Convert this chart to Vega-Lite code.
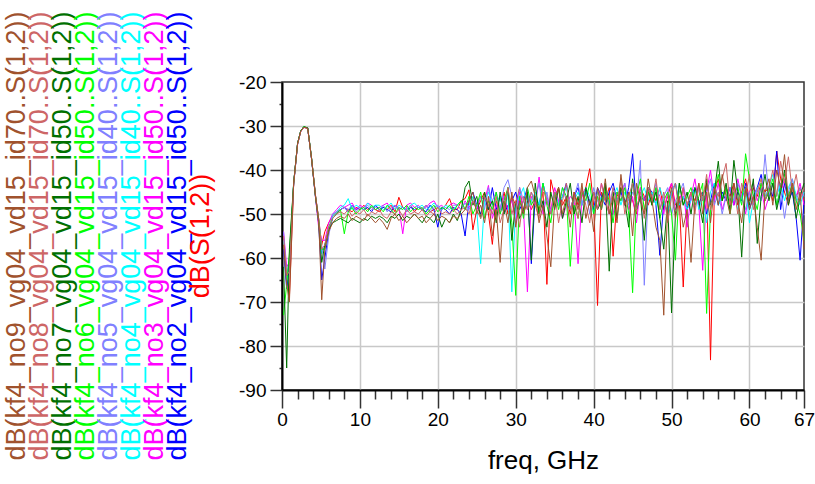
{
"$schema":"https://vega.github.io/schema/vega-lite/v6.json",
"padding":{"left":2,"top":11,"right":0,"bottom":5},
"bounds":"flush",
"spacing":70,
"config":{"view":{"stroke":"#333333","strokeWidth":1.5},"font":"Liberation Sans"},
"datasets":{
"labels":[{"s":"n9","label":"dB(kf4_no9_vg04_vd15_id70..S(1,2))"},{"s":"n8","label":"dB(kf4_no8_vg04_vd15_id70..S(1,2))"},{"s":"n7","label":"dB(kf4_no7_vg04_vd15_id50..S(1,2))"},{"s":"n6","label":"dB(kf4_no6_vg04_vd15_id50..S(1,2))"},{"s":"n5","label":"dB(kf4_no5_vg04_vd15_id40..S(1,2))"},{"s":"n4","label":"dB(kf4_no4_vg04_vd15_id40..S(1,2))"},{"s":"n3","label":"dB(kf4_no3_vg04_vd15_id50..S(1,2))"},{"s":"n2","label":"dB(kf4_no2_vg04_vd15_id50..S(1,2))"},{"s":"r","label":"dB(S(1,2))"}],
"n9":[{"f":0.2,"v":-57},{"f":0.6,"v":-66},{"f":0.95,"v":-70},{"f":1.5,"v":-43},{"f":2,"v":-34},{"f":2.4,"v":-31.2},{"f":2.8,"v":-30.3},{"f":3.3,"v":-30.5},{"f":3.8,"v":-37.6},{"f":4.3,"v":-46},{"f":4.7,"v":-51},{"f":5.1,"v":-69.5},{"f":5.5,"v":-58},{"f":6,"v":-54},{"f":6.5,"v":-52},{"f":7,"v":-51},
{"f":7.5,"v":-50.5},{"f":8,"v":-51},{"f":8.5,"v":-50},{"f":9,"v":-51.5},{"f":9.5,"v":-50.5},{"f":10,"v":-51},{"f":10.5,"v":-51.5},{"f":11,"v":-50},{"f":11.5,"v":-51},{"f":12,"v":-52},
{"f":12.5,"v":-51},{"f":13,"v":-52},{"f":13.5,"v":-53.5},{"f":14,"v":-51},{"f":14.5,"v":-50},{"f":15,"v":-51.5},{"f":15.5,"v":-50.5},{"f":16,"v":-52},{"f":16.5,"v":-51},{"f":17,"v":-50},
{"f":17.5,"v":-51},{"f":18,"v":-50.5},{"f":18.5,"v":-52},{"f":19,"v":-51},{"f":19.5,"v":-50},{"f":20,"v":-51.5},{"f":20.5,"v":-50.5},{"f":21,"v":-51},{"f":21.5,"v":-52},{"f":22,"v":-50.5},
{"f":22.5,"v":-51},{"f":23,"v":-50},{"f":23.5,"v":-49},{"f":24,"v":-47},{"f":24.5,"v":-45},{"f":25,"v":-50},{"f":25.5,"v":-48},{"f":26,"v":-52},{"f":26.5,"v":-46},{"f":27,"v":-55},
{"f":27.5,"v":-49},{"f":28,"v":-61},{"f":28.5,"v":-47},{"f":29,"v":-52},{"f":29.5,"v":-45},{"f":30,"v":-53},{"f":30.5,"v":-47},{"f":31,"v":-50},{"f":31.5,"v":-44},{"f":32,"v":-42.5},
{"f":32.5,"v":-46},{"f":33,"v":-52},{"f":33.5,"v":-48},{"f":34,"v":-55},{"f":34.5,"v":-62},{"f":35,"v":-47},{"f":35.5,"v":-44},{"f":36,"v":-50},{"f":36.5,"v":-46},{"f":37,"v":-53},
{"f":37.5,"v":-45},{"f":38,"v":-49},{"f":38.5,"v":-43},{"f":39,"v":-51},{"f":39.5,"v":-47},{"f":40,"v":-54},{"f":40.5,"v":-44},{"f":41,"v":-49},{"f":41.5,"v":-42},{"f":42,"v":-50},
{"f":42.5,"v":-46},{"f":43,"v":-52},{"f":43.5,"v":-41},{"f":44,"v":-48},{"f":44.5,"v":-45},{"f":45,"v":-55},{"f":45.5,"v":-43},{"f":46,"v":-47},{"f":46.5,"v":-50},{"f":47,"v":-42},
{"f":47.5,"v":-47},{"f":48,"v":-53},{"f":48.5,"v":-56},{"f":49,"v":-73},{"f":49.5,"v":-48},{"f":50,"v":-44},{"f":50.5,"v":-51},{"f":51,"v":-46},{"f":51.5,"v":-53},{"f":52,"v":-49},
{"f":52.5,"v":-61},{"f":53,"v":-47},{"f":53.5,"v":-43},{"f":54,"v":-50},{"f":54.5,"v":-45},{"f":55,"v":-52},{"f":55.5,"v":-44},{"f":56,"v":-48},{"f":56.5,"v":-41},{"f":57,"v":-46},
{"f":57.5,"v":-50},{"f":58,"v":-43},{"f":58.5,"v":-47},{"f":59,"v":-52},{"f":59.5,"v":-44},{"f":60,"v":-49},{"f":60.5,"v":-46},{"f":61,"v":-53},{"f":61.5,"v":-60.5},{"f":62,"v":-45},
{"f":62.5,"v":-42},{"f":63,"v":-48},{"f":63.5,"v":-40},{"f":64,"v":-44},{"f":64.5,"v":-36.5},{"f":65,"v":-47},{"f":65.5,"v":-43},{"f":66,"v":-49},{"f":66.5,"v":-45},{"f":67,"v":-58}],
"n8":[{"f":0.2,"v":-55},{"f":0.6,"v":-64},{"f":0.95,"v":-63},{"f":1.5,"v":-43.2},{"f":2,"v":-34.2},{"f":2.4,"v":-31.3},{"f":2.8,"v":-30.3},{"f":3.3,"v":-30.6},{"f":3.8,"v":-37.4},{"f":4.3,"v":-45.8},{"f":4.7,"v":-51.5},{"f":5.1,"v":-58},{"f":5.5,"v":-57},{"f":6,"v":-53},{"f":6.5,"v":-51},{"f":7,"v":-50},
{"f":7.5,"v":-49.5},{"f":8,"v":-50},{"f":8.5,"v":-49},{"f":9,"v":-50.5},{"f":9.5,"v":-49.5},{"f":10,"v":-50},{"f":10.5,"v":-49},{"f":11,"v":-50.5},{"f":11.5,"v":-49.5},{"f":12,"v":-50},
{"f":12.5,"v":-49},{"f":13,"v":-50.5},{"f":13.5,"v":-51},{"f":14,"v":-49.5},{"f":14.5,"v":-50},{"f":15,"v":-49},{"f":15.5,"v":-50.5},{"f":16,"v":-49},{"f":16.5,"v":-50},{"f":17,"v":-49.5},
{"f":17.5,"v":-50},{"f":18,"v":-49},{"f":18.5,"v":-50.5},{"f":19,"v":-49.5},{"f":19.5,"v":-50},{"f":20,"v":-48.5},{"f":20.5,"v":-50},{"f":21,"v":-49.5},{"f":21.5,"v":-50},{"f":22,"v":-49},
{"f":22.5,"v":-50},{"f":23,"v":-49},{"f":23.5,"v":-48.5},{"f":24,"v":-50},{"f":24.5,"v":-47},{"f":25,"v":-49},{"f":25.5,"v":-51},{"f":26,"v":-46},{"f":26.5,"v":-48},{"f":27,"v":-50},
{"f":27.5,"v":-46},{"f":28,"v":-52},{"f":28.5,"v":-49},{"f":29,"v":-44},{"f":29.5,"v":-50},{"f":30,"v":-47},{"f":30.5,"v":-53},{"f":31,"v":-46},{"f":31.5,"v":-49},{"f":32,"v":-45},
{"f":32.5,"v":-48},{"f":33,"v":-51},{"f":33.5,"v":-44},{"f":34,"v":-47},{"f":34.5,"v":-50},{"f":35,"v":-45},{"f":35.5,"v":-52},{"f":36,"v":-47},{"f":36.5,"v":-43},{"f":37,"v":-49},
{"f":37.5,"v":-46},{"f":38,"v":-51},{"f":38.5,"v":-44},{"f":39,"v":-48},{"f":39.5,"v":-52},{"f":40,"v":-45},{"f":40.5,"v":-49},{"f":41,"v":-43},{"f":41.5,"v":-47},{"f":42,"v":-50},
{"f":42.5,"v":-44},{"f":43,"v":-48},{"f":43.5,"v":-42},{"f":44,"v":-50},{"f":44.5,"v":-46},{"f":45,"v":-43},{"f":45.5,"v":-49},{"f":46,"v":-45},{"f":46.5,"v":-51},{"f":47,"v":-44},
{"f":47.5,"v":-47},{"f":48,"v":-42},{"f":48.5,"v":-49},{"f":49,"v":-45},{"f":49.5,"v":-52},{"f":50,"v":-46},{"f":50.5,"v":-43},{"f":51,"v":-50},{"f":51.5,"v":-44},{"f":52,"v":-48},
{"f":52.5,"v":-45},{"f":53,"v":-50},{"f":53.5,"v":-43},{"f":54,"v":-47},{"f":54.5,"v":-41},{"f":55,"v":-49},{"f":55.5,"v":-44},{"f":56,"v":-46},{"f":56.5,"v":-42},{"f":57,"v":-38.5},
{"f":57.5,"v":-48},{"f":58,"v":-44},{"f":58.5,"v":-50},{"f":59,"v":-43},{"f":59.5,"v":-46},{"f":60,"v":-41},{"f":60.5,"v":-49},{"f":61,"v":-45},{"f":61.5,"v":-42},{"f":62,"v":-47},
{"f":62.5,"v":-44},{"f":63,"v":-40},{"f":63.5,"v":-46},{"f":64,"v":-38},{"f":64.5,"v":-43},{"f":65,"v":-37},{"f":65.5,"v":-45},{"f":66,"v":-41},{"f":66.5,"v":-47},{"f":67,"v":-44}],
"n7":[{"f":0.2,"v":-62},{"f":0.6,"v":-85},{"f":0.95,"v":-58},{"f":1.5,"v":-42.8},{"f":2,"v":-33.9},{"f":2.4,"v":-31.1},{"f":2.8,"v":-30.2},{"f":3.3,"v":-30.4},{"f":3.8,"v":-37.5},{"f":4.3,"v":-46.2},{"f":4.7,"v":-52},{"f":5.1,"v":-61},{"f":5.5,"v":-57},{"f":6,"v":-53.5},{"f":6.5,"v":-52},{"f":7,"v":-51.5},
{"f":7.5,"v":-51},{"f":8,"v":-51.5},{"f":8.5,"v":-52},{"f":9,"v":-51},{"f":9.5,"v":-51.5},{"f":10,"v":-52},{"f":10.5,"v":-51},{"f":11,"v":-51.5},{"f":11.5,"v":-50.5},{"f":12,"v":-51},
{"f":12.5,"v":-50.5},{"f":13,"v":-51},{"f":13.5,"v":-52},{"f":14,"v":-50.5},{"f":14.5,"v":-51},{"f":15,"v":-50},{"f":15.5,"v":-51.5},{"f":16,"v":-50.5},{"f":16.5,"v":-51},{"f":17,"v":-50},
{"f":17.5,"v":-51},{"f":18,"v":-52},{"f":18.5,"v":-50.5},{"f":19,"v":-51},{"f":19.5,"v":-52},{"f":20,"v":-50},{"f":20.5,"v":-53},{"f":21,"v":-51},{"f":21.5,"v":-52},{"f":22,"v":-50},
{"f":22.5,"v":-51.5},{"f":23,"v":-49},{"f":23.5,"v":-44},{"f":24,"v":-42.5},{"f":24.5,"v":-48},{"f":25,"v":-46},{"f":25.5,"v":-51},{"f":26,"v":-45},{"f":26.5,"v":-49},{"f":27,"v":-47},
{"f":27.5,"v":-52},{"f":28,"v":-45},{"f":28.5,"v":-50},{"f":29,"v":-44},{"f":29.5,"v":-56},{"f":30,"v":-47},{"f":30.5,"v":-51},{"f":31,"v":-49},{"f":31.5,"v":-45},{"f":32,"v":-60.5},
{"f":32.5,"v":-43},{"f":33,"v":-50},{"f":33.5,"v":-47},{"f":34,"v":-53},{"f":34.5,"v":-45},{"f":35,"v":-49},{"f":35.5,"v":-44},{"f":36,"v":-51},{"f":36.5,"v":-47},{"f":37,"v":-43},
{"f":37.5,"v":-50},{"f":38,"v":-46},{"f":38.5,"v":-52},{"f":39,"v":-44},{"f":39.5,"v":-48},{"f":40,"v":-45},{"f":40.5,"v":-49},{"f":41,"v":-47},{"f":41.5,"v":-43},{"f":42,"v":-63},
{"f":42.5,"v":-45},{"f":43,"v":-51},{"f":43.5,"v":-44},{"f":44,"v":-47},{"f":44.5,"v":-53},{"f":45,"v":-42},{"f":45.5,"v":-49},{"f":46,"v":-46},{"f":46.5,"v":-56},{"f":47,"v":-44},
{"f":47.5,"v":-48},{"f":48,"v":-45},{"f":48.5,"v":-51},{"f":49,"v":-58},{"f":49.5,"v":-47},{"f":50,"v":-72.5},{"f":50.5,"v":-50},{"f":51,"v":-43},{"f":51.5,"v":-48},{"f":52,"v":-45},
{"f":52.5,"v":-50},{"f":53,"v":-44},{"f":53.5,"v":-47},{"f":54,"v":-52},{"f":54.5,"v":-42},{"f":55,"v":-48},{"f":55.5,"v":-45},{"f":56,"v":-38},{"f":56.5,"v":-47},{"f":57,"v":-43},
{"f":57.5,"v":-49},{"f":58,"v":-37.8},{"f":58.5,"v":-45},{"f":59,"v":-59.8},{"f":59.5,"v":-44},{"f":60,"v":-48},{"f":60.5,"v":-42},{"f":61,"v":-56.7},{"f":61.5,"v":-46},{"f":62,"v":-41},
{"f":62.5,"v":-47},{"f":63,"v":-43},{"f":63.5,"v":-49},{"f":64,"v":-45},{"f":64.5,"v":-40},{"f":65,"v":-48},{"f":65.5,"v":-44},{"f":66,"v":-51},{"f":66.5,"v":-46},{"f":67,"v":-43}],
"n6":[{"f":0.2,"v":-73},{"f":0.6,"v":-66},{"f":0.95,"v":-59},{"f":1.5,"v":-43},{"f":2,"v":-34},{"f":2.4,"v":-31.2},{"f":2.8,"v":-30.1},{"f":3.3,"v":-30.5},{"f":3.8,"v":-37.3},{"f":4.3,"v":-45.9},{"f":4.7,"v":-51.2},{"f":5.1,"v":-58},{"f":5.5,"v":-58},{"f":6,"v":-53},{"f":6.5,"v":-51},{"f":7,"v":-50},
{"f":7.5,"v":-49},{"f":8,"v":-54.5},{"f":8.5,"v":-49.5},{"f":9,"v":-48.5},{"f":9.5,"v":-50},{"f":10,"v":-49},{"f":10.5,"v":-48.5},{"f":11,"v":-49.5},{"f":11.5,"v":-48},{"f":12,"v":-49},
{"f":12.5,"v":-48.5},{"f":13,"v":-49.5},{"f":13.5,"v":-48},{"f":14,"v":-49},{"f":14.5,"v":-50},{"f":15,"v":-48.5},{"f":15.5,"v":-49},{"f":16,"v":-48},{"f":16.5,"v":-49.5},{"f":17,"v":-48.5},
{"f":17.5,"v":-49},{"f":18,"v":-48.5},{"f":18.5,"v":-50},{"f":19,"v":-49},{"f":19.5,"v":-48},{"f":20,"v":-49.5},{"f":20.5,"v":-48.5},{"f":21,"v":-49},{"f":21.5,"v":-48},{"f":22,"v":-49.5},
{"f":22.5,"v":-48},{"f":23,"v":-47},{"f":23.5,"v":-49},{"f":24,"v":-46},{"f":24.5,"v":-50},{"f":25,"v":-48},{"f":25.5,"v":-45},{"f":26,"v":-51},{"f":26.5,"v":-47},{"f":27,"v":-49},
{"f":27.5,"v":-45},{"f":28,"v":-50},{"f":28.5,"v":-47},{"f":29,"v":-44},{"f":29.5,"v":-52},{"f":30,"v":-68.5},{"f":30.5,"v":-46},{"f":31,"v":-51},{"f":31.5,"v":-44},{"f":32,"v":-48},
{"f":32.5,"v":-46},{"f":33,"v":-50},{"f":33.5,"v":-43},{"f":34,"v":-48},{"f":34.5,"v":-52},{"f":35,"v":-45},{"f":35.5,"v":-49},{"f":36,"v":-44},{"f":36.5,"v":-46},{"f":37,"v":-61.9},
{"f":37.5,"v":-48},{"f":38,"v":-51},{"f":38.5,"v":-45},{"f":39,"v":-47},{"f":39.5,"v":-43},{"f":40,"v":-50},{"f":40.5,"v":-46},{"f":41,"v":-49},{"f":41.5,"v":-44},{"f":42,"v":-47},
{"f":42.5,"v":-52},{"f":43,"v":-45},{"f":43.5,"v":-47},{"f":44,"v":-44},{"f":44.5,"v":-50},{"f":45,"v":-67.9},{"f":45.5,"v":-46},{"f":46,"v":-42},{"f":46.5,"v":-49},{"f":47,"v":-45},
{"f":47.5,"v":-48},{"f":48,"v":-44},{"f":48.5,"v":-51},{"f":49,"v":-47},{"f":49.5,"v":-45},{"f":50,"v":-50},{"f":50.5,"v":-60.5},{"f":51,"v":-43},{"f":51.5,"v":-48},{"f":52,"v":-46},
{"f":52.5,"v":-44},{"f":53,"v":-48},{"f":53.5,"v":-46},{"f":54,"v":-43},{"f":54.5,"v":-72.6},{"f":55,"v":-49},{"f":55.5,"v":-45},{"f":56,"v":-41},{"f":56.5,"v":-47},{"f":57,"v":-44},
{"f":57.5,"v":-50},{"f":58,"v":-45},{"f":58.5,"v":-44},{"f":59,"v":-48},{"f":59.5,"v":-36.3},{"f":60,"v":-42},{"f":60.5,"v":-46},{"f":61,"v":-49},{"f":61.5,"v":-43},{"f":62,"v":-47},
{"f":62.5,"v":-45},{"f":63,"v":-42},{"f":63.5,"v":-48},{"f":64,"v":-44},{"f":64.5,"v":-41},{"f":65,"v":-46},{"f":65.5,"v":-43},{"f":66,"v":-47},{"f":66.5,"v":-50},{"f":67,"v":-56}],
"n5":[{"f":0.2,"v":-54},{"f":0.6,"v":-64},{"f":0.95,"v":-60},{"f":1.5,"v":-43.1},{"f":2,"v":-34},{"f":2.4,"v":-31.2},{"f":2.8,"v":-30.2},{"f":3.3,"v":-30.5},{"f":3.8,"v":-37.4},{"f":4.3,"v":-45.8},{"f":4.7,"v":-51},{"f":5.1,"v":-57},{"f":5.5,"v":-62.5},{"f":6,"v":-55},{"f":6.5,"v":-50},{"f":7,"v":-49.5},
{"f":7.5,"v":-49},{"f":8,"v":-48.5},{"f":8.5,"v":-49},{"f":9,"v":-48},{"f":9.5,"v":-49.5},{"f":10,"v":-48.5},{"f":10.5,"v":-49},{"f":11,"v":-48},{"f":11.5,"v":-49},{"f":12,"v":-48.5},
{"f":12.5,"v":-49},{"f":13,"v":-48},{"f":13.5,"v":-49.5},{"f":14,"v":-48.5},{"f":14.5,"v":-48},{"f":15,"v":-49},{"f":15.5,"v":-48.5},{"f":16,"v":-49.5},{"f":16.5,"v":-48},{"f":17,"v":-49},
{"f":17.5,"v":-48.5},{"f":18,"v":-49},{"f":18.5,"v":-48},{"f":19,"v":-49.5},{"f":19.5,"v":-48.5},{"f":20,"v":-48},{"f":20.5,"v":-49},{"f":21,"v":-48.5},{"f":21.5,"v":-49},{"f":22,"v":-48},
{"f":22.5,"v":-48},{"f":23,"v":-49},{"f":23.5,"v":-47.5},{"f":24,"v":-49},{"f":24.5,"v":-47},{"f":25,"v":-48},{"f":25.5,"v":-46},{"f":26,"v":-49},{"f":26.5,"v":-44},{"f":27,"v":-47},
{"f":27.5,"v":-45},{"f":28,"v":-49},{"f":28.5,"v":-44},{"f":29,"v":-42.2},{"f":29.5,"v":-46},{"f":30,"v":-50},{"f":30.5,"v":-44},{"f":31,"v":-47},{"f":31.5,"v":-49},{"f":32,"v":-45},
{"f":32.5,"v":-47},{"f":33,"v":-43},{"f":33.5,"v":-49},{"f":34,"v":-45},{"f":34.5,"v":-50},{"f":35,"v":-46},{"f":35.5,"v":-48},{"f":36,"v":-44},{"f":36.5,"v":-47},{"f":37,"v":-49},
{"f":37.5,"v":-46},{"f":38,"v":-43},{"f":38.5,"v":-48},{"f":39,"v":-45},{"f":39.5,"v":-50},{"f":40,"v":-44},{"f":40.5,"v":-47},{"f":41,"v":-49},{"f":41.5,"v":-45},{"f":42,"v":-48},
{"f":42.5,"v":-44},{"f":43,"v":-47},{"f":43.5,"v":-45},{"f":44,"v":-43},{"f":44.5,"v":-48},{"f":45,"v":-45},{"f":45.5,"v":-47},{"f":46,"v":-37.8},{"f":46.5,"v":-66.2},{"f":47,"v":-45},
{"f":47.5,"v":-47},{"f":48,"v":-43},{"f":48.5,"v":-49},{"f":49,"v":-46},{"f":49.5,"v":-44},{"f":50,"v":-50},{"f":50.5,"v":-47},{"f":51,"v":-45},{"f":51.5,"v":-43},{"f":52,"v":-48},
{"f":52.5,"v":-46},{"f":53,"v":-49},{"f":53.5,"v":-44},{"f":54,"v":-47},{"f":54.5,"v":-45},{"f":55,"v":-42},{"f":55.5,"v":-48},{"f":56,"v":-45},{"f":56.5,"v":-50},{"f":57,"v":-46},
{"f":57.5,"v":-44},{"f":58,"v":-47},{"f":58.5,"v":-43},{"f":59,"v":-46},{"f":59.5,"v":-49},{"f":60,"v":-45},{"f":60.5,"v":-48},{"f":61,"v":-44},{"f":61.5,"v":-47},{"f":62,"v":-36.5},
{"f":62.5,"v":-46},{"f":63,"v":-43},{"f":63.5,"v":-48},{"f":64,"v":-44},{"f":64.5,"v":-51},{"f":65,"v":-45},{"f":65.5,"v":-42},{"f":66,"v":-47},{"f":66.5,"v":-44},{"f":67,"v":-46}],
"n4":[{"f":0.2,"v":-56},{"f":0.6,"v":-65},{"f":0.95,"v":-61},{"f":1.5,"v":-43},{"f":2,"v":-34.1},{"f":2.4,"v":-31.2},{"f":2.8,"v":-30.2},{"f":3.3,"v":-30.5},{"f":3.8,"v":-37.5},{"f":4.3,"v":-46},{"f":4.7,"v":-51.5},{"f":5.1,"v":-59},{"f":5.5,"v":-57},{"f":6,"v":-53},{"f":6.5,"v":-50.5},{"f":7,"v":-49.5},
{"f":7.5,"v":-48.5},{"f":8,"v":-48},{"f":8.5,"v":-46.5},{"f":9,"v":-49},{"f":9.5,"v":-48},{"f":10,"v":-48.5},{"f":10.5,"v":-49},{"f":11,"v":-47.5},{"f":11.5,"v":-48.5},{"f":12,"v":-48},
{"f":12.5,"v":-48},{"f":13,"v":-49},{"f":13.5,"v":-48.5},{"f":14,"v":-47.5},{"f":14.5,"v":-49},{"f":15,"v":-48},{"f":15.5,"v":-48.5},{"f":16,"v":-49},{"f":16.5,"v":-48},{"f":17,"v":-47.5},
{"f":17.5,"v":-48.5},{"f":18,"v":-48},{"f":18.5,"v":-49},{"f":19,"v":-48.5},{"f":19.5,"v":-47.5},{"f":20,"v":-48.5},{"f":20.5,"v":-49},{"f":21,"v":-48},{"f":21.5,"v":-48.5},{"f":22,"v":-49},
{"f":22.5,"v":-48},{"f":23,"v":-47},{"f":23.5,"v":-49},{"f":24,"v":-48},{"f":24.5,"v":-46},{"f":25,"v":-49},{"f":25.5,"v":-61.3},{"f":26,"v":-47},{"f":26.5,"v":-45},{"f":27,"v":-48},
{"f":27.5,"v":-47},{"f":28,"v":-46},{"f":28.5,"v":-50},{"f":29,"v":-45},{"f":29.5,"v":-67.7},{"f":30,"v":-48},{"f":30.5,"v":-46},{"f":31,"v":-44},{"f":31.5,"v":-49},{"f":32,"v":-47},
{"f":32.5,"v":-45},{"f":33,"v":-48},{"f":33.5,"v":-43},{"f":34,"v":-47},{"f":34.5,"v":-50},{"f":35,"v":-45},{"f":35.5,"v":-48},{"f":36,"v":-46},{"f":36.5,"v":-44},{"f":37,"v":-49},
{"f":37.5,"v":-47},{"f":38,"v":-45},{"f":38.5,"v":-48},{"f":39,"v":-44},{"f":39.5,"v":-46},{"f":40,"v":-50},{"f":40.5,"v":-45},{"f":41,"v":-47},{"f":41.5,"v":-43},{"f":42,"v":-48},
{"f":42.5,"v":-46},{"f":43,"v":-44},{"f":43.5,"v":-48},{"f":44,"v":-45},{"f":44.5,"v":-47},{"f":45,"v":-43},{"f":45.5,"v":-49},{"f":46,"v":-46},{"f":46.5,"v":-44},{"f":47,"v":-47},
{"f":47.5,"v":-45},{"f":48,"v":-48},{"f":48.5,"v":-44},{"f":49,"v":-47},{"f":49.5,"v":-50},{"f":50,"v":-45},{"f":50.5,"v":-43},{"f":51,"v":-48},{"f":51.5,"v":-46},{"f":52,"v":-49},
{"f":52.5,"v":-47},{"f":53,"v":-44},{"f":53.5,"v":-49},{"f":54,"v":-46},{"f":54.5,"v":-52},{"f":55,"v":-45},{"f":55.5,"v":-43},{"f":56,"v":-48},{"f":56.5,"v":-46},{"f":57,"v":-44},
{"f":57.5,"v":-47},{"f":58,"v":-45},{"f":58.5,"v":-49},{"f":59,"v":-46},{"f":59.5,"v":-44},{"f":60,"v":-52},{"f":60.5,"v":-47},{"f":61,"v":-44},{"f":61.5,"v":-43},{"f":62,"v":-46},
{"f":62.5,"v":-44},{"f":63,"v":-41},{"f":63.5,"v":-46},{"f":64,"v":-43},{"f":64.5,"v":-47},{"f":65,"v":-44},{"f":65.5,"v":-42},{"f":66,"v":-46},{"f":66.5,"v":-48},{"f":67,"v":-45}],
"n3":[{"f":0.2,"v":-54},{"f":0.6,"v":-62},{"f":0.95,"v":-61},{"f":1.5,"v":-43.3},{"f":2,"v":-34.2},{"f":2.4,"v":-31.3},{"f":2.8,"v":-30.3},{"f":3.3,"v":-30.6},{"f":3.8,"v":-37.6},{"f":4.3,"v":-46.3},{"f":4.7,"v":-53},{"f":5.1,"v":-56},{"f":5.5,"v":-56},{"f":6,"v":-52},{"f":6.5,"v":-50},{"f":7,"v":-49},
{"f":7.5,"v":-48},{"f":8,"v":-48.5},{"f":8.5,"v":-48},{"f":9,"v":-47.5},{"f":9.5,"v":-49},{"f":10,"v":-48},{"f":10.5,"v":-48.5},{"f":11,"v":-47.5},{"f":11.5,"v":-48},{"f":12,"v":-49},
{"f":12.5,"v":-48.5},{"f":13,"v":-48},{"f":13.5,"v":-47.5},{"f":14,"v":-49},{"f":14.5,"v":-48},{"f":15,"v":-48.5},{"f":15.5,"v":-54.5},{"f":16,"v":-48},{"f":16.5,"v":-47.5},{"f":17,"v":-48.5},
{"f":17.5,"v":-48},{"f":18,"v":-49},{"f":18.5,"v":-48.5},{"f":19,"v":-47.5},{"f":19.5,"v":-47},{"f":20,"v":-48.5},{"f":20.5,"v":-48},{"f":21,"v":-49},{"f":21.5,"v":-48},{"f":22,"v":-47.5},
{"f":22.5,"v":-48},{"f":23,"v":-49},{"f":23.5,"v":-47},{"f":24,"v":-48.5},{"f":24.5,"v":-47},{"f":25,"v":-49},{"f":25.5,"v":-46},{"f":26,"v":-47},{"f":26.5,"v":-43.5},{"f":27,"v":-51},
{"f":27.5,"v":-48},{"f":28,"v":-50},{"f":28.5,"v":-46},{"f":29,"v":-49},{"f":29.5,"v":-47},{"f":30,"v":-52},{"f":30.5,"v":-45},{"f":31,"v":-49},{"f":31.5,"v":-67.7},{"f":32,"v":-46},
{"f":32.5,"v":-48},{"f":33,"v":-41.6},{"f":33.5,"v":-50},{"f":34,"v":-46},{"f":34.5,"v":-49},{"f":35,"v":-44},{"f":35.5,"v":-47},{"f":36,"v":-51},{"f":36.5,"v":-48},{"f":37,"v":-46},
{"f":37.5,"v":-47},{"f":38,"v":-61.3},{"f":38.5,"v":-46},{"f":39,"v":-44},{"f":39.5,"v":-48},{"f":40,"v":-45},{"f":40.5,"v":-49},{"f":41,"v":-43},{"f":41.5,"v":-47},{"f":42,"v":-50},
{"f":42.5,"v":-50},{"f":43,"v":-45},{"f":43.5,"v":-47},{"f":44,"v":-43},{"f":44.5,"v":-49},{"f":45,"v":-46},{"f":45.5,"v":-52},{"f":46,"v":-44},{"f":46.5,"v":-47},{"f":47,"v":-45},
{"f":47.5,"v":-48},{"f":48,"v":-44},{"f":48.5,"v":-46},{"f":49,"v":-50},{"f":49.5,"v":-45},{"f":50,"v":-43},{"f":50.5,"v":-49},{"f":51,"v":-47},{"f":51.5,"v":-44},{"f":52,"v":-53},
{"f":52.5,"v":-46},{"f":53,"v":-42},{"f":53.5,"v":-48},{"f":54,"v":-62.8},{"f":54.5,"v":-45},{"f":55,"v":-40},{"f":55.5,"v":-47},{"f":56,"v":-43},{"f":56.5,"v":-49},{"f":57,"v":-46},
{"f":57.5,"v":-44},{"f":58,"v":-48},{"f":58.5,"v":-42},{"f":59,"v":-46},{"f":59.5,"v":-50},{"f":60,"v":-45},{"f":60.5,"v":-43},{"f":61,"v":-47},{"f":61.5,"v":-44},{"f":62,"v":-49},
{"f":62.5,"v":-46},{"f":63,"v":-43},{"f":63.5,"v":-48},{"f":64,"v":-45},{"f":64.5,"v":-42},{"f":65,"v":-47},{"f":65.5,"v":-44},{"f":66,"v":-46},{"f":66.5,"v":-43},{"f":67,"v":-48}],
"n2":[{"f":0.2,"v":-58},{"f":0.6,"v":-67},{"f":0.95,"v":-62},{"f":1.5,"v":-43},{"f":2,"v":-34},{"f":2.4,"v":-31.2},{"f":2.8,"v":-30.2},{"f":3.3,"v":-30.5},{"f":3.8,"v":-37.5},{"f":4.3,"v":-46.1},{"f":4.7,"v":-52},{"f":5.1,"v":-65},{"f":5.5,"v":-60},{"f":6,"v":-54},{"f":6.5,"v":-51},{"f":7,"v":-50},
{"f":7.5,"v":-49},{"f":8,"v":-48.5},{"f":8.5,"v":-49.5},{"f":9,"v":-48},{"f":9.5,"v":-49},{"f":10,"v":-48.5},{"f":10.5,"v":-49},{"f":11,"v":-48.5},{"f":11.5,"v":-49.5},{"f":12,"v":-48},
{"f":12.5,"v":-49},{"f":13,"v":-48.5},{"f":13.5,"v":-49},{"f":14,"v":-49.5},{"f":14.5,"v":-48},{"f":15,"v":-49},{"f":15.5,"v":-48.5},{"f":16,"v":-49.5},{"f":16.5,"v":-48.5},{"f":17,"v":-49},
{"f":17.5,"v":-48.5},{"f":18,"v":-49},{"f":18.5,"v":-49.5},{"f":19,"v":-48},{"f":19.5,"v":-49},{"f":20,"v":-53},{"f":20.5,"v":-48.5},{"f":21,"v":-49},{"f":21.5,"v":-50},{"f":22,"v":-48.5},
{"f":22.5,"v":-49},{"f":23,"v":-50},{"f":23.5,"v":-55},{"f":24,"v":-47},{"f":24.5,"v":-45},{"f":25,"v":-48},{"f":25.5,"v":-50},{"f":26,"v":-46},{"f":26.5,"v":-49},{"f":27,"v":-44},
{"f":27.5,"v":-49},{"f":28,"v":-46},{"f":28.5,"v":-50},{"f":29,"v":-48},{"f":29.5,"v":-47},{"f":30,"v":-45},{"f":30.5,"v":-49},{"f":31,"v":-47},{"f":31.5,"v":-44},{"f":32,"v":-61.3},
{"f":32.5,"v":-46},{"f":33,"v":-48},{"f":33.5,"v":-43},{"f":34,"v":-47},{"f":34.5,"v":-50},{"f":35,"v":-45},{"f":35.5,"v":-48},{"f":36,"v":-46},{"f":36.5,"v":-43},{"f":37,"v":-49},
{"f":37.5,"v":-46},{"f":38,"v":-44},{"f":38.5,"v":-48},{"f":39,"v":-45},{"f":39.5,"v":-47},{"f":40,"v":-49},{"f":40.5,"v":-44},{"f":41,"v":-46},{"f":41.5,"v":-48},{"f":42,"v":-45},
{"f":42.5,"v":-43},{"f":43,"v":-47},{"f":43.5,"v":-45},{"f":44,"v":-48},{"f":44.5,"v":-44},{"f":45,"v":-36.3},{"f":45.5,"v":-49},{"f":46,"v":-46},{"f":46.5,"v":-47},{"f":47,"v":-44},
{"f":47.5,"v":-45},{"f":48,"v":-48},{"f":48.5,"v":-59.4},{"f":49,"v":-47},{"f":49.5,"v":-50},{"f":50,"v":-45},{"f":50.5,"v":-43},{"f":51,"v":-48},{"f":51.5,"v":-46},{"f":52,"v":-49},
{"f":52.5,"v":-46},{"f":53,"v":-44},{"f":53.5,"v":-48},{"f":54,"v":-45},{"f":54.5,"v":-50},{"f":55,"v":-47},{"f":55.5,"v":-43},{"f":56,"v":-48},{"f":56.5,"v":-45},{"f":57,"v":-47},
{"f":57.5,"v":-44},{"f":58,"v":-48},{"f":58.5,"v":-45},{"f":59,"v":-47},{"f":59.5,"v":-43},{"f":60,"v":-49},{"f":60.5,"v":-46},{"f":61,"v":-44},{"f":61.5,"v":-41},{"f":62,"v":-47},
{"f":62.5,"v":-44},{"f":63,"v":-46},{"f":63.5,"v":-35.7},{"f":64,"v":-49},{"f":64.5,"v":-43},{"f":65,"v":-47},{"f":65.5,"v":-45},{"f":66,"v":-51},{"f":66.5,"v":-60.5},{"f":67,"v":-47}],
"r":[{"f":0.2,"v":-56},{"f":0.6,"v":-64},{"f":0.95,"v":-69},{"f":1.5,"v":-43},{"f":2,"v":-34},{"f":2.4,"v":-31.2},{"f":2.8,"v":-30.2},{"f":3.3,"v":-30.5},{"f":3.8,"v":-37.4},{"f":4.3,"v":-45.7},{"f":4.7,"v":-51},{"f":5.1,"v":-57},{"f":5.5,"v":-54},{"f":6,"v":-52},{"f":6.5,"v":-50.5},{"f":7,"v":-49.5},
{"f":7.5,"v":-49},{"f":8,"v":-48.5},{"f":8.5,"v":-49},{"f":9,"v":-49.5},{"f":9.5,"v":-48.5},{"f":10,"v":-49},{"f":10.5,"v":-48},{"f":11,"v":-49},{"f":11.5,"v":-48.5},{"f":12,"v":-49},
{"f":12.5,"v":-49.5},{"f":13,"v":-48.5},{"f":13.5,"v":-49},{"f":14,"v":-48},{"f":14.5,"v":-49.5},{"f":15,"v":-46.2},{"f":15.5,"v":-48.5},{"f":16,"v":-49},{"f":16.5,"v":-48},{"f":17,"v":-49.5},
{"f":17.5,"v":-48.5},{"f":18,"v":-49},{"f":18.5,"v":-48},{"f":19,"v":-49.5},{"f":19.5,"v":-49},{"f":20,"v":-48.5},{"f":20.5,"v":-49},{"f":21,"v":-48},{"f":21.5,"v":-46.5},{"f":22,"v":-49},
{"f":22.5,"v":-49},{"f":23,"v":-47},{"f":23.5,"v":-46.5},{"f":24,"v":-44.5},{"f":24.5,"v":-53.6},{"f":25,"v":-49},{"f":25.5,"v":-47},{"f":26,"v":-45},{"f":26.5,"v":-50},{"f":27,"v":-56.9},
{"f":27.5,"v":-47},{"f":28,"v":-49},{"f":28.5,"v":-45},{"f":29,"v":-50},{"f":29.5,"v":-46},{"f":30,"v":-48},{"f":30.5,"v":-44},{"f":31,"v":-50},{"f":31.5,"v":-47},{"f":32,"v":-49},
{"f":32.5,"v":-47},{"f":33,"v":-49},{"f":33.5,"v":-45},{"f":34,"v":-66},{"f":34.5,"v":-42.2},{"f":35,"v":-46},{"f":35.5,"v":-44},{"f":36,"v":-48},{"f":36.5,"v":-46},{"f":37,"v":-50},
{"f":37.5,"v":-45},{"f":38,"v":-48},{"f":38.5,"v":-46},{"f":39,"v":-44},{"f":39.5,"v":-39.7},{"f":40,"v":-48},{"f":40.5,"v":-70.8},{"f":41,"v":-45},{"f":41.5,"v":-47},{"f":42,"v":-44},
{"f":42.5,"v":-59.6},{"f":43,"v":-46},{"f":43.5,"v":-44},{"f":44,"v":-48},{"f":44.5,"v":-45},{"f":45,"v":-47},{"f":45.5,"v":-50},{"f":46,"v":-44},{"f":46.5,"v":-46},{"f":47,"v":-48},
{"f":47.5,"v":-45},{"f":48,"v":-47},{"f":48.5,"v":-44},{"f":49,"v":-49},{"f":49.5,"v":-46},{"f":50,"v":-43},{"f":50.5,"v":-48},{"f":51,"v":-47},{"f":51.5,"v":-66.6},{"f":52,"v":-48},
{"f":52.5,"v":-45},{"f":53,"v":-47},{"f":53.5,"v":-44},{"f":54,"v":-46},{"f":54.5,"v":-43},{"f":55,"v":-83.2},{"f":55.5,"v":-45},{"f":56,"v":-42},{"f":56.5,"v":-47},{"f":57,"v":-44},
{"f":57.5,"v":-46},{"f":58,"v":-43},{"f":58.5,"v":-48},{"f":59,"v":-45},{"f":59.5,"v":-42},{"f":60,"v":-47},{"f":60.5,"v":-44},{"f":61,"v":-46},{"f":61.5,"v":-43},{"f":62,"v":-45},
{"f":62.5,"v":-44},{"f":63,"v":-47},{"f":63.5,"v":-35.7},{"f":64,"v":-42},{"f":64.5,"v":-45},{"f":65,"v":-48},{"f":65.5,"v":-43},{"f":66,"v":-46},{"f":66.5,"v":-44},{"f":67,"v":-47}]
},
"hconcat":[
{
"width":207,"height":308,
"view":{"stroke":null},
"data":{"name":"labels"},
"mark":{"type":"text","angle":270,"align":"center","baseline":"middle","font":"Liberation Sans","fontSize":27},
"encoding":{
"x":{"field":"s","type":"nominal","sort":null,"scale":{"type":"point","padding":0.5,"domain":["n9","n8","n7","n6","n5","n4","n3","n2","r"]},"axis":null},
"y":{"datum":0,"type":"quantitative","scale":{"domain":[-1,1]},"axis":null},
"text":{"field":"label"},
"color":{"field":"s","type":"nominal","scale":{"domain":["n9","n8","n7","n6","n5","n4","n3","n2","r"],"range":["#a0522d","#cd6666","#007000","#00ff00","#8080ff","#00ffff","#ff00ff","#0000ff","#ff0000"]},"legend":null}
}
},
{
"width":522,"height":308,
"encoding":{
"x":{"field":"f","type":"quantitative","title":"freq, GHz","scale":{"domain":[0,67],"nice":false,"zero":false},
"axis":{"values":[0,2,4,6,8,10,12,14,16,18,20,22,24,26,28,30,32,34,36,38,40,42,44,46,48,50,52,54,56,58,60,62,64,66,67],
"labelExpr":"datum.value % 10 === 0 || datum.value === 67 ? '' + datum.value : ''",
"tickSize":{"condition":{"test":"datum.value % 10 === 0 || datum.value === 67","value":18},"value":9},
"tickColor":"#333333","tickWidth":1.5,
"gridColor":"#c8c8c8","gridWidth":1.5,
"gridOpacity":{"condition":{"test":"datum.value % 10 === 0 && datum.value > 0","value":1},"value":0},
"domainColor":"#000000","domainWidth":2,
"labelFont":"Liberation Sans","labelFontSize":19,"labelColor":"#000000","labelPadding":2,"labelFlush":false,"labelOverlap":false,
"titleFont":"Liberation Sans","titleFontSize":26,"titleFontWeight":"normal","titleColor":"#000000","titlePadding":18}},
"y":{"field":"v","type":"quantitative","title":null,"scale":{"domain":[-90,-20],"nice":false,"zero":false},
"axis":{"values":[-90,-85,-80,-75,-70,-65,-60,-55,-50,-45,-40,-35,-30,-25,-20],
"labelExpr":"datum.value % 10 === 0 ? '' + datum.value : ''",
"tickSize":{"condition":{"test":"datum.value % 10 === 0","value":12},"value":3},
"tickColor":"#333333","tickWidth":1.5,
"gridColor":"#c8c8c8","gridWidth":1.5,
"gridOpacity":{"condition":{"test":"datum.value % 10 === 0 && datum.value > -90 && datum.value < -20","value":1},"value":0},
"domainColor":"#000000","domainWidth":2,
"labelFont":"Liberation Sans","labelFontSize":19,"labelColor":"#000000","labelPadding":4,"labelOverlap":false}}
},
"layer":[
{"data":{"name":"r"},"mark":{"type":"line","color":"#ff0000","strokeWidth":1}},
{"data":{"name":"n2"},"mark":{"type":"line","color":"#0000ff","strokeWidth":1}},
{"data":{"name":"n3"},"mark":{"type":"line","color":"#ff00ff","strokeWidth":1}},
{"data":{"name":"n4"},"mark":{"type":"line","color":"#00ffff","strokeWidth":1}},
{"data":{"name":"n5"},"mark":{"type":"line","color":"#8080ff","strokeWidth":1}},
{"data":{"name":"n6"},"mark":{"type":"line","color":"#00ff00","strokeWidth":1}},
{"data":{"name":"n7"},"mark":{"type":"line","color":"#007000","strokeWidth":1}},
{"data":{"name":"n8"},"mark":{"type":"line","color":"#cd6666","strokeWidth":1}},
{"data":{"name":"n9"},"mark":{"type":"line","color":"#a0522d","strokeWidth":1}}
]
}
]
}
